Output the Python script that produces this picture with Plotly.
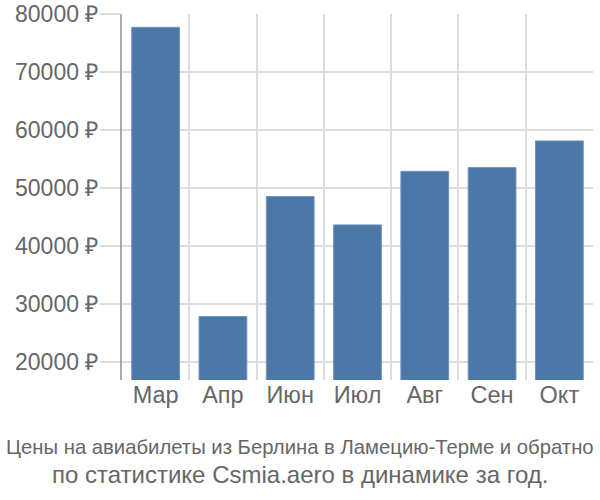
import plotly.graph_objects as go

months = ["Мар", "Апр", "Июн", "Июл", "Авг", "Сен", "Окт"]
prices = [77700, 27800, 48500, 43600, 52850, 53500, 58100]
ytick_vals = [20000, 30000, 40000, 50000, 60000, 70000, 80000]
ytick_text = [f"{v} ₽" for v in ytick_vals]
caption1 = "Цены на авиабилеты из Берлина в Ламецию-Терме и обратно"
caption2 = "по статистике Csmia.aero в динамике за год."

xpos = list(range(len(months)))
bounds = [i - 0.5 for i in range(len(months) + 1)]

fig = go.Figure(go.Bar(
    x=xpos, y=prices, width=0.71,
    marker=dict(color="#4c78a8", line=dict(color="#6f93bd", width=1)),
    hoverinfo="skip",
))

font = "Liberation Sans, Arial, sans-serif"
W, H = 600, 500
L, T, R = 122, 14, 7
plot_bottom = 380
B = H - plot_bottom
ph = plot_bottom - T
cx = (300 - L) / (W - L - R)
fig.update_layout(
    width=W, height=H,
    margin=dict(l=L, r=R, t=T, b=B, autoexpand=False),
    paper_bgcolor="white", plot_bgcolor="white",
    showlegend=False,
    font=dict(family=font, color="#666666"),
    xaxis=dict(
        automargin=False,
        range=[-0.5, len(months) - 0.5],
        tickvals=xpos, ticktext=months,
        tickfont=dict(size=23.5, color="#666666"),
        showgrid=False, zeroline=False, showline=False,
        ticks="", ticklabelstandoff=-2,
        minor=dict(tickvals=bounds, showgrid=True, gridcolor="#dddddd", gridwidth=1.5, ticks=""),
    ),
    yaxis=dict(
        automargin=False,
        range=[16842, 80000],
        tickvals=ytick_vals, ticktext=ytick_text,
        tickfont=dict(size=23, color="#666666"),
        showgrid=True, gridcolor="#dddddd", gridwidth=1.5,
        zeroline=False,
        showline=True, linecolor="#aaaaaa", linewidth=2,
        ticks="outside", ticklen=20, tickcolor="#dddddd", tickwidth=1.5,
        ticklabeloverflow="allow", ticklabelstandoff=-3,
    ),
    annotations=[
        dict(text=caption1, xref="paper", yref="paper", x=cx, xanchor="center",
             y=-(447 - plot_bottom) / ph, yanchor="middle", showarrow=False,
             font=dict(size=20.3, color="#666666", family=font)),
        dict(text=caption2, xref="paper", yref="paper", x=cx, xanchor="center",
             y=-(474 - plot_bottom) / ph, yanchor="middle", showarrow=False,
             font=dict(size=24, color="#666666", family=font)),
    ],
)
# remove the default 8px page margin so the figure fills the 600x500 window
fig.write_html("out.html", config={"displayModeBar": False},
               post_script="document.body.style.margin='0px';")
